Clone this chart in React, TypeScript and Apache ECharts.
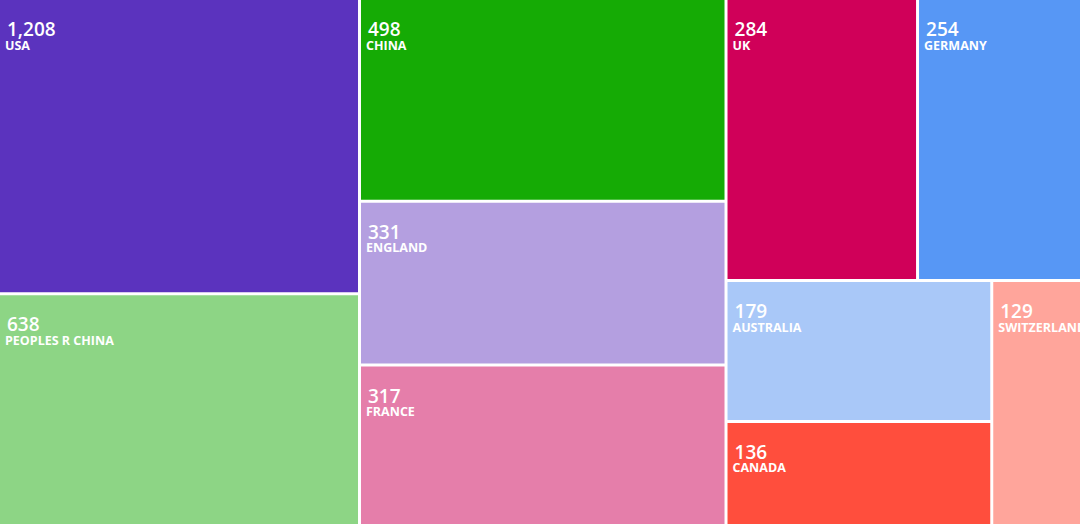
import React, { useEffect, useRef } from "react";
import * as echarts from "echarts";

const countries = ["USA", "PEOPLES R CHINA", "CHINA", "ENGLAND", "FRANCE", "UK", "GERMANY", "AUSTRALIA", "CANADA", "SWITZERLAND"];
const counts = [1208, 638, 498, 331, 317, 284, 254, 179, 136, 129];
// relative tile areas as drawn in the reference
const tileSizes = [105660, 82980, 73648, 59577, 58297, 53576, 45862, 37100, 27428, 21793];
const colors = ["#5B33BE", "#8DD585", "#15AB05", "#B49FE0", "#E57EAA", "#D00059", "#5797F5", "#A9C8F8", "#FF4E3D", "#FFA59B"];

export default function App() {
  const ref = useRef<HTMLDivElement>(null);
  useEffect(() => {
    if (!ref.current) return;
    const chart = echarts.init(ref.current, null, { renderer: "svg" });
    const data = countries.map((name, i) => ({
      name,
      value: tileSizes[i],
      count: counts[i],
      itemStyle: { color: colors[i] },
    }));
    chart.setOption({
      animation: false,
      series: [
        {
          type: "treemap",
          left: 0,
          top: 0,
          width: "100%",
          height: "100%",
          roam: false,
          nodeClick: false,
          breadcrumb: { show: false },
          data,
          levels: [
            { itemStyle: { gapWidth: 3, borderWidth: 0, borderColor: "#fff" } },
            { itemStyle: { gapWidth: 0, borderWidth: 0 } },
          ],
          label: {
            show: true,
            position: "insideTopLeft",
            distance: 5,
            padding: [15, 0, 0, 0],
            overflow: "none",
            formatter: (p: any) => `{num|${p.data.count.toLocaleString("en-US")}}\n{nm|${p.name}}`,
            rich: {
              num: { fontFamily: "Open Sans", fontSize: 19, fontWeight: 600, color: "#fff", lineHeight: 18, padding: [0, 0, 0, 2] },
              nm: { fontFamily: "Open Sans", fontSize: 12.5, fontWeight: "bold", color: "#fff", lineHeight: 14 },
            },
          },
        },
      ],
    });
    return () => chart.dispose();
  }, []);
  return <div ref={ref} style={{ position: "fixed", left: 0, top: 0, width: 1080, height: 524, background: "#fff" }} />;
}
